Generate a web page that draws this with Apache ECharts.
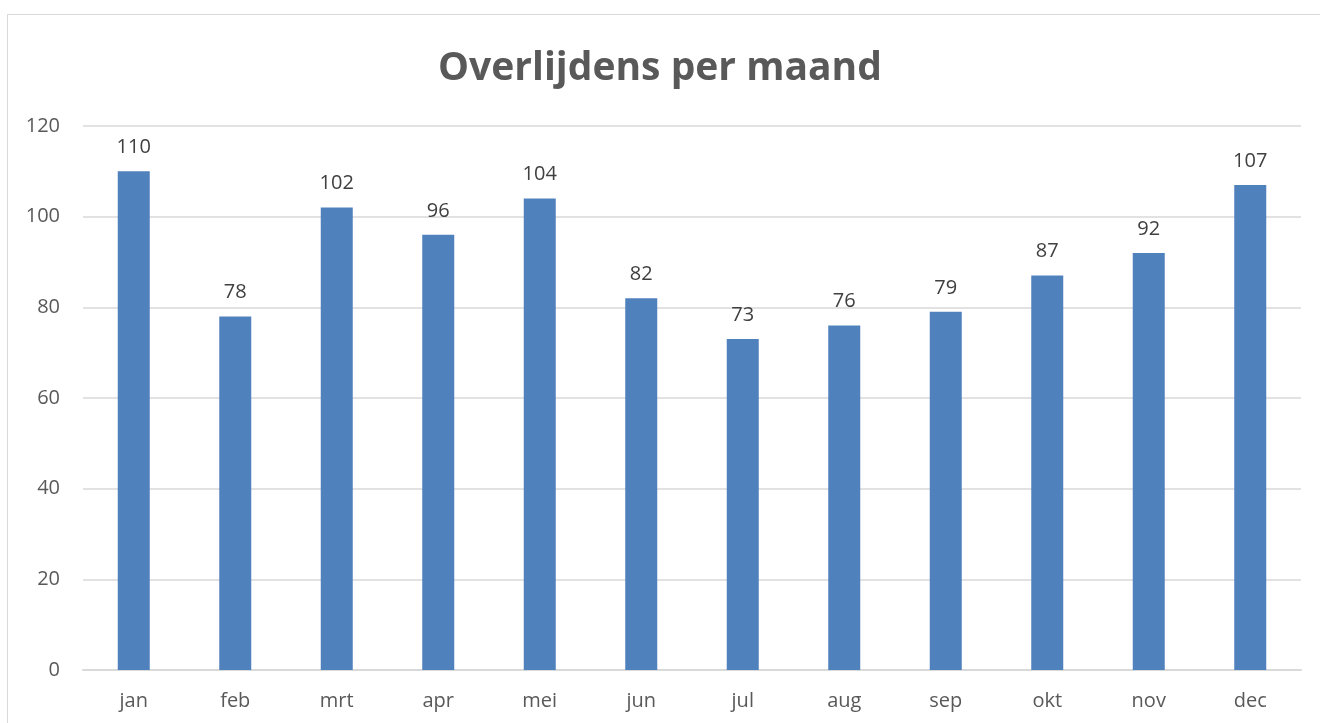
<!DOCTYPE html>
<html>
<head>
<meta charset="utf-8">
<script src="https://cdn.jsdelivr.net/npm/echarts@6/dist/echarts.min.js"></script>
<style>
    html, body { margin: 0; padding: 0; background: #fff; }
    #frame { position: absolute; left: 7px; top: 14px; width: 1400px; height: 800px; border: 1px solid #d9d9d9; box-sizing: border-box; }
    #chart { position: absolute; left: 0; top: 0; width: 1320px; height: 723px; }
</style>
</head>
<body>
<div id="frame"></div>
<div id="chart"></div>
<script>
var months = ['jan', 'feb', 'mrt', 'apr', 'mei', 'jun', 'jul', 'aug', 'sep', 'okt', 'nov', 'dec'];
var deaths = [110, 78, 102, 96, 104, 82, 73, 76, 79, 87, 92, 107];

var myChart = echarts.init(document.getElementById('chart'));

var option = {
    animation: false,
    title: {
        text: 'Overlijdens per maand',
        left: 'center',
        top: 44,
        textStyle: {
            color: '#595959',
            fontFamily: 'Open Sans',
            fontWeight: 'bold',
            fontSize: 39
        }
    },
    grid: {
        left: 83,
        right: 19,
        top: 126,
        bottom: 53
    },
    xAxis: {
        type: 'category',
        data: months,
        axisTick: { show: false },
        axisLine: { lineStyle: { color: '#d9d9d9', width: 2 } },
        axisLabel: {
            color: '#595959',
            fontFamily: 'Open Sans',
            fontSize: 20,
            margin: 21
        }
    },
    yAxis: {
        type: 'value',
        min: 0,
        max: 120,
        interval: 20,
        axisLine: { show: false },
        axisTick: { show: false },
        axisLabel: {
            color: '#595959',
            fontFamily: 'Open Sans',
            fontSize: 20,
            margin: 23
        },
        splitLine: { lineStyle: { color: '#d9d9d9', width: 1.5 } }
    },
    series: [
        {
            type: 'bar',
            data: deaths,
            barWidth: 32,
            itemStyle: { color: '#4f81bd' },
            label: {
                show: true,
                position: 'top',
                distance: 14,
                color: '#404040',
                fontFamily: 'Open Sans',
                fontSize: 20
            }
        }
    ]
};

myChart.setOption(option);
</script>
</body>
</html>
